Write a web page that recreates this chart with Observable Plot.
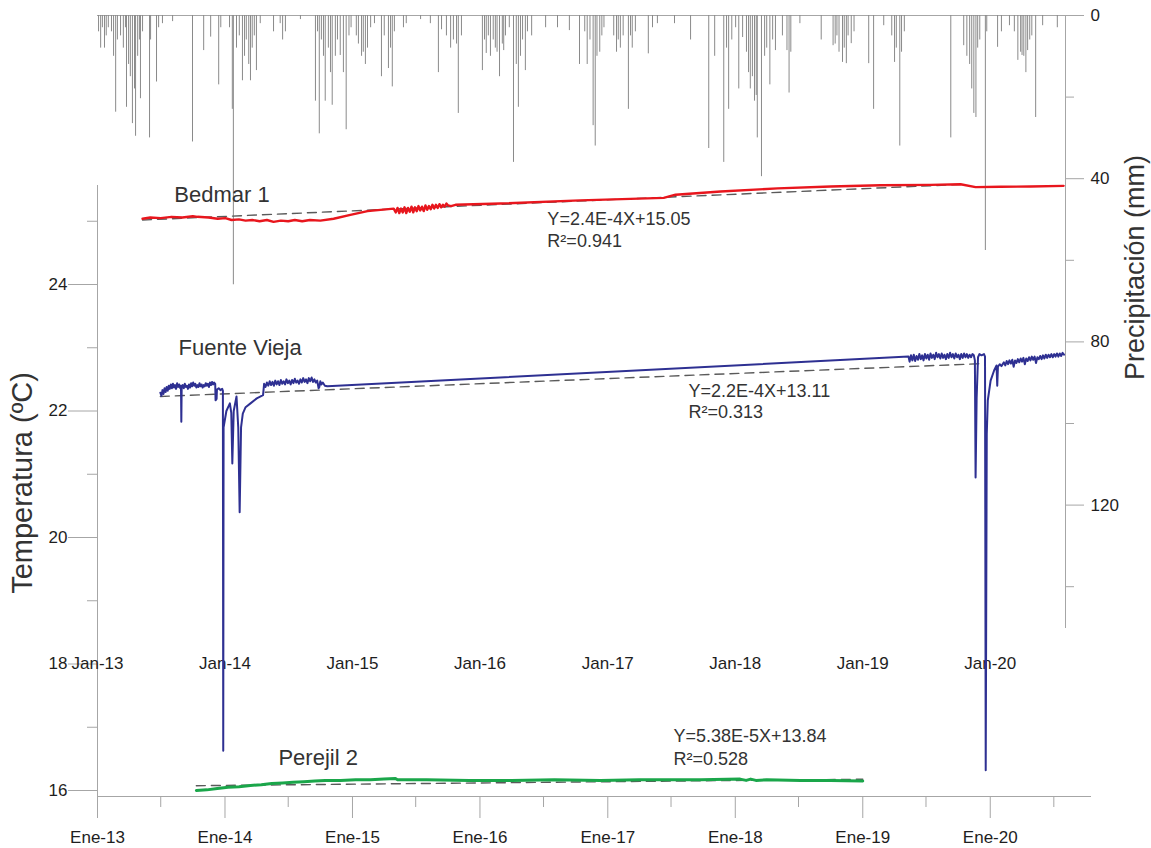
<!DOCTYPE html>
<html><head><meta charset="utf-8">
<script src="https://cdn.jsdelivr.net/npm/d3@7"></script>
<script src="https://cdn.jsdelivr.net/npm/@observablehq/plot@0.6"></script>
<style>
body{margin:0;background:#fff;}
#wrap{position:relative;width:1151px;height:848px;background:#fff;}
#wrap svg{position:absolute;left:0;top:0;}
</style></head><body><div id="wrap"></div>
<script>
// ---------- scales / ticks ----------
const xDomain = ["2013-01-01", "2020-10-14"];
const yearTicks = ["2013-01-01","2014-01-01","2015-01-01","2016-01-01","2017-01-01","2018-01-01","2019-01-01","2020-01-01"];
const halfYearTicks = ["2013-07-01","2014-07-01","2015-07-01","2016-07-01","2017-07-01","2018-07-01","2019-07-01","2020-07-01"];
const tempDomain = [16, 24];
const tempMajorTicks = [16, 18, 20, 22, 24];
const tempMinorTicks = [17, 19, 21, 23, 25];
const precipDomain = [0, 150];
const precipMajorTicks = [0, 40, 80, 120];
const precipMinorTicks = [20, 60, 100, 140];

// ---------- precipitation (mm/day) ----------
const precipitation = [
["2013-01-04",4],["2013-01-10",8],["2013-01-15",3],["2013-01-21",8],["2013-01-26",5],["2013-02-01",3],["2013-02-10",4],["2013-02-16",10],["2013-02-22",23.7],["2013-02-27",6],["2013-03-08",5],["2013-03-16",8],["2013-03-22",3],["2013-03-25",22.5],["2013-03-31",12],["2013-04-05",15],["2013-04-11",26.5],["2013-04-17",18],["2013-04-20",29.6],["2013-04-26",10],["2013-05-01",6],["2013-05-04",20.4],["2013-05-10",4],["2013-05-30",30],["2013-06-02",6],["2013-06-19",16.3],["2013-06-25",3],["2013-07-06",2],["2013-08-04",1.5],["2013-09-30",31],["2013-11-01",8.6],["2013-11-21",5.3],["2013-12-14",17],["2013-12-20",3],
["2014-01-14",3],["2014-01-22",23],["2014-01-25",66],["2014-02-03",8],["2014-02-11",5],["2014-02-20",16],["2014-02-26",10],["2014-03-03",6],["2014-03-10",12],["2014-03-15",16],["2014-03-20",8],["2014-03-26",5],["2014-04-01",13.5],["2014-04-12",2],["2014-05-20",4],["2014-06-08",2],["2014-06-15",6],["2014-06-23",4],["2014-08-05",1],["2014-09-17",21],["2014-09-23",4],["2014-09-28",29],["2014-10-04",6],["2014-10-10",10],["2014-10-15",21],["2014-10-24",8],["2014-10-30",14],["2014-11-04",22],["2014-11-13",10],["2014-11-19",6],["2014-11-27",9.8],["2014-12-06",14],["2014-12-14",28],["2014-12-22",5],["2014-12-28",3],
["2015-01-12",5],["2015-01-18",7],["2015-01-27",10],["2015-02-01",9],["2015-02-07",12],["2015-02-13",8],["2015-02-22",3],["2015-03-05",2],["2015-03-25",15],["2015-04-02",5],["2015-04-14",13],["2015-04-20",8],["2015-04-25",17.5],["2015-05-01",4],["2015-05-27",3],["2015-06-04",2],["2015-07-15",1],["2015-08-12",2],["2015-09-04",14],["2015-09-13",3.5],["2015-09-27",5],["2015-10-09",8],["2015-10-17",6],["2015-10-26",7],["2015-10-31",24],["2015-11-09",5],
["2016-01-08",13.5],["2016-01-14",6],["2016-01-19",9.3],["2016-01-25",5],["2016-01-31",10],["2016-02-08",6],["2016-02-14",8],["2016-02-19",9],["2016-02-26",15],["2016-03-05",7],["2016-03-09",8.6],["2016-03-14",5],["2016-03-25",3],["2016-04-06",36],["2016-04-14",12],["2016-04-20",22.5],["2016-04-26",10],["2016-05-02",6],["2016-05-10",13.5],["2016-05-16",4],["2016-05-28",5],["2016-07-07",3],["2016-08-10",3],["2016-09-13",3.7],["2016-10-12",12],["2016-10-27",4],["2016-11-03",12],["2016-11-11",6],["2016-11-20",27],["2016-11-26",32],["2016-12-01",10],["2016-12-09",9],["2016-12-15",5],["2016-12-21",3],
["2017-01-18",5],["2017-01-26",9],["2017-01-31",6],["2017-02-06",8],["2017-02-14",5],["2017-03-01",23],["2017-03-07",5],["2017-03-12",8],["2017-03-21",4],["2017-04-27",9.4],["2017-05-09",3],["2017-05-23",2],["2017-07-11",2],["2017-08-26",6],["2017-10-17",32.6],["2017-11-03",10],["2017-11-29",36],["2017-12-07",8],["2017-12-13",23],["2017-12-22",6],
["2018-01-02",3],["2018-01-11",18],["2018-01-22",5.4],["2018-02-02",9],["2018-02-08",14],["2018-02-13",18],["2018-02-19",15],["2018-02-25",21],["2018-03-02",19.6],["2018-03-05",30],["2018-03-17",39.5],["2018-03-26",10],["2018-04-01",8],["2018-04-10",17],["2018-04-18",6],["2018-04-26",8.6],["2018-05-16",5],["2018-05-29",8.6],["2018-06-04",19],["2018-06-09",9],["2018-07-05",2],["2018-09-04",6],["2018-10-08",7.4],["2018-10-14",7],["2018-10-19",5],["2018-10-25",9],["2018-11-04",11.5],["2018-11-09",8],["2018-11-15",11.8],["2018-11-20",5],["2018-11-29",6.9],["2018-12-07",4],
["2019-01-18",11.8],["2019-02-01",23],["2019-03-02",2.5],["2019-03-25",5],["2019-04-02",11.5],["2019-04-07",8],["2019-04-17",32],["2019-04-22",9],["2019-04-30",4],["2019-09-10",30],["2019-10-17",7.4],["2019-10-26",10],["2019-11-03",12],["2019-11-09",18],["2019-11-15",24],["2019-11-21",25],["2019-11-26",8],["2019-12-02",6],["2019-12-18",57.6],["2019-12-22",4],
["2020-01-22",7.8],["2020-02-02",4],["2020-02-25",2.5],["2020-03-10",4],["2020-03-20",11],["2020-03-28",9],["2020-04-01",9.8],["2020-04-06",10],["2020-04-12",14],["2020-04-17",8.6],["2020-04-23",6],["2020-04-29",5],["2020-05-10",25],["2020-05-30",2.5],["2020-07-11",3]
];

// ---------- temperature series (ºC) ----------
const bedmar = [
["2013-05-10",25.04],["2013-06-01",25.06],["2013-07-01",25.05],["2013-08-01",25.07],["2013-09-01",25.06],["2013-10-01",25.08],["2013-10-14",25.07],["2013-11-15",25.06],["2013-12-11",25.04],
["2014-01-02",25.05],["2014-01-20",25.02],["2014-02-10",25.03],["2014-03-01",25.01],["2014-03-20",25.02],["2014-04-10",25.00],["2014-05-01",25.02],["2014-05-20",24.99],["2014-06-10",25.01],["2014-07-01",25.00],["2014-07-20",25.02],["2014-08-10",25.00],["2014-09-01",25.02],["2014-10-01",25.01],["2014-11-08",25.04],["2014-12-26",25.10],
["2015-02-13",25.16],["2015-04-29",25.20],["2015-05-05",25.14],["2015-05-10",25.21],["2015-05-15",25.13],["2015-05-20",25.20],["2015-05-25",25.14],["2015-05-30",25.22],["2015-06-04",25.13],["2015-06-09",25.21],["2015-06-14",25.15],["2015-06-19",25.23],["2015-06-24",25.14],["2015-06-29",25.22],["2015-07-04",25.16],["2015-07-09",25.24],["2015-07-14",25.17],["2015-07-19",25.23],["2015-07-24",25.16],["2015-07-29",25.25],["2015-08-03",25.18],["2015-08-08",25.24],["2015-08-13",25.19],["2015-08-18",25.26],["2015-08-23",25.20],["2015-08-28",25.26],["2015-09-02",25.21],["2015-09-07",25.27],["2015-09-12",25.22],["2015-09-17",25.26],["2015-09-22",25.23],["2015-09-27",25.28],["2015-10-02",25.25],["2015-10-10",25.24],["2015-10-23",25.26],
["2016-02-29",25.28],["2016-10-14",25.33],["2017-06-10",25.37],["2017-07-14",25.42],["2017-11-20",25.47],["2018-05-02",25.52],["2018-10-01",25.55],["2019-02-21",25.57],["2019-07-14",25.575],["2019-10-08",25.585],["2019-11-20",25.54],["2020-01-31",25.545],["2020-04-26",25.55],["2020-07-29",25.56]
];

const fuenteVieja = [
["2013-06-30",22.29],["2013-07-03",22.24],["2013-07-06",22.33],["2013-07-09",22.27],["2013-07-12",22.36],["2013-07-15",22.30],["2013-07-18",22.38],["2013-07-21",22.32],["2013-07-24",22.40],["2013-07-27",22.35],["2013-07-30",22.42],["2013-08-02",22.36],["2013-08-05",22.43],["2013-08-08",22.37],["2013-08-11",22.41],["2013-08-14",22.35],["2013-08-17",22.44],["2013-08-20",22.38],["2013-08-23",22.42],["2013-08-26",22.36],["2013-08-28",22.40],["2013-08-29",21.83],["2013-08-30",22.38],
["2013-09-02",22.41],["2013-09-05",22.36],["2013-09-08",22.43],["2013-09-11",22.38],["2013-09-14",22.40],["2013-09-17",22.35],["2013-09-20",22.42],["2013-09-23",22.37],["2013-09-26",22.44],["2013-09-29",22.39],["2013-10-02",22.45],["2013-10-05",22.40],["2013-10-08",22.43],["2013-10-11",22.37],["2013-10-14",22.41],["2013-10-17",22.38],["2013-10-20",22.44],["2013-10-23",22.39],["2013-10-26",22.42],["2013-10-29",22.37],["2013-11-01",22.41],["2013-11-04",22.39],["2013-11-07",22.44],["2013-11-10",22.40],["2013-11-13",22.43],["2013-11-16",22.38],["2013-11-19",22.45],["2013-11-22",22.41],["2013-11-25",22.46],["2013-11-28",22.42],["2013-12-01",22.45],["2013-12-04",22.43],["2013-12-05",22.17],["2013-12-08",22.19],["2013-12-09",22.34],["2013-12-14",22.36],["2013-12-19",22.33],["2013-12-24",22.35],["2013-12-26",22.32],["2013-12-27",16.63],["2013-12-28",21.74],
["2014-01-05",22.00],["2014-01-15",22.12],["2014-01-19",21.97],["2014-01-22",21.17],["2014-01-26",22.00],["2014-02-03",22.23],["2014-02-08",21.74],["2014-02-12",20.40],["2014-02-16",21.74],["2014-02-21",21.96],["2014-03-01",22.06],["2014-03-15",22.12],["2014-04-02",22.20],["2014-04-20",22.25],
["2014-04-23",22.43],["2014-04-27",22.38],["2014-05-01",22.45],["2014-05-05",22.40],["2014-05-09",22.47],["2014-05-13",22.41],["2014-05-17",22.46],["2014-05-21",22.40],["2014-05-25",22.48],["2014-05-29",22.42],["2014-06-02",22.47],["2014-06-06",22.41],["2014-06-10",22.49],["2014-06-14",22.43],["2014-06-18",22.47],["2014-06-22",22.42],["2014-06-26",22.50],["2014-06-30",22.44],["2014-07-04",22.48],["2014-07-08",22.42],["2014-07-12",22.49],["2014-07-16",22.44],["2014-07-20",22.51],["2014-07-24",22.45],["2014-07-28",22.48],["2014-08-01",22.43],["2014-08-05",22.50],["2014-08-09",22.45],["2014-08-13",22.52],["2014-08-17",22.46],["2014-08-21",22.50],["2014-08-25",22.44],["2014-08-29",22.52],["2014-09-02",22.47],["2014-09-06",22.53],["2014-09-10",22.46],["2014-09-14",22.50],["2014-09-18",22.45],["2014-09-22",22.48],["2014-09-26",22.36],["2014-09-28",22.38],["2014-10-01",22.47],["2014-10-04",22.42],["2014-10-08",22.45],["2014-10-14",22.40],["2014-10-21",22.39],
["2019-05-12",22.86],["2019-05-15",22.78],["2019-05-19",22.88],["2019-05-23",22.80],["2019-05-27",22.89],["2019-05-31",22.79],["2019-06-04",22.87],["2019-06-08",22.81],["2019-06-12",22.90],["2019-06-16",22.82],["2019-06-20",22.88],["2019-06-24",22.80],["2019-06-28",22.90],["2019-07-02",22.83],["2019-07-06",22.89],["2019-07-10",22.81],["2019-07-14",22.91],["2019-07-18",22.84],["2019-07-22",22.89],["2019-07-26",22.82],["2019-07-30",22.92],["2019-08-03",22.85],["2019-08-07",22.90],["2019-08-11",22.83],["2019-08-15",22.91],["2019-08-19",22.84],["2019-08-23",22.89],["2019-08-27",22.82],["2019-08-31",22.90],["2019-09-04",22.84],["2019-09-08",22.92],["2019-09-12",22.85],["2019-09-16",22.90],["2019-09-20",22.83],["2019-09-24",22.91],["2019-09-28",22.85],["2019-10-02",22.89],["2019-10-06",22.82],["2019-10-10",22.90],["2019-10-14",22.84],["2019-10-18",22.91],["2019-10-22",22.85],["2019-10-26",22.90],["2019-10-30",22.84],["2019-11-03",22.89],["2019-11-07",22.85],["2019-11-11",22.90],["2019-11-15",22.88],["2019-11-18",22.80],["2019-11-20",20.95],["2019-11-23",22.20],["2019-11-27",22.85],["2019-12-01",22.90],["2019-12-07",22.88],["2019-12-14",22.90],["2019-12-17",22.86],["2019-12-19",16.32],["2019-12-22",21.64],["2019-12-25",22.17],
["2020-01-02",22.48],["2020-01-12",22.64],["2020-01-19",22.72],["2020-01-21",22.40],["2020-01-23",22.70],["2020-01-28",22.74],["2020-02-02",22.71],["2020-02-09",22.77],["2020-02-13",22.72],["2020-02-17",22.79],["2020-02-21",22.74],["2020-02-25",22.80],["2020-02-29",22.75],["2020-03-04",22.81],["2020-03-08",22.70],["2020-03-12",22.80],["2020-03-16",22.76],["2020-03-20",22.82],["2020-03-24",22.77],["2020-03-28",22.83],["2020-04-01",22.78],["2020-04-05",22.84],["2020-04-09",22.74],["2020-04-13",22.83],["2020-04-17",22.79],["2020-04-21",22.85],["2020-04-25",22.80],["2020-04-29",22.86],["2020-05-03",22.81],["2020-05-07",22.86],["2020-05-11",22.76],["2020-05-15",22.85],["2020-05-19",22.82],["2020-05-23",22.87],["2020-05-27",22.82],["2020-05-31",22.88],["2020-06-04",22.83],["2020-06-08",22.89],["2020-06-12",22.84],["2020-06-16",22.89],["2020-06-20",22.85],["2020-06-24",22.90],["2020-06-28",22.85],["2020-07-02",22.90],["2020-07-06",22.86],["2020-07-10",22.91],["2020-07-14",22.86],["2020-07-18",22.91],["2020-07-22",22.87],["2020-07-26",22.92],["2020-07-30",22.89]
];

const perejil = [
["2013-10-11",16.00],["2013-11-10",16.01],["2013-12-10",16.03],["2014-01-10",16.05],["2014-02-10",16.06],["2014-03-15",16.08],["2014-04-15",16.09],["2014-05-15",16.11],["2014-06-15",16.12],["2014-07-15",16.13],["2014-08-15",16.14],["2014-09-15",16.15],["2014-10-15",16.16],["2014-11-28",16.16],["2015-01-10",16.17],["2015-02-22",16.17],["2015-04-01",16.18],["2015-05-04",16.19],["2015-05-10",16.17],["2015-08-01",16.17],["2015-12-01",16.16],["2016-04-01",16.16],["2016-08-01",16.17],["2016-12-11",16.16],["2017-04-01",16.17],["2017-09-24",16.17],["2018-01-15",16.18],["2018-02-01",16.16],["2018-02-14",16.18],["2018-03-01",16.16],["2018-04-01",16.17],["2018-07-07",16.16],["2018-10-01",16.16],["2019-01-01",16.15]
];

// ---------- linear trends (start/end) ----------
const trends = [
  {station:"Bedmar 1", d1:"2013-05-10", v1:25.02, d2:"2019-10-20", v2:25.585},
  {station:"Fuente Vieja", d1:"2013-06-30", v1:22.23, d2:"2019-12-14", v2:22.75},
  {station:"Perejil 2", d1:"2013-10-11", v1:16.076, d2:"2019-01-01", v2:16.178}
];

// ---------- labels ----------
const stationLabels = [
  {text:"Bedmar 1", date:"2013-08-09", value:25.31},
  {text:"Fuente Vieja", date:"2013-08-21", value:22.893},
  {text:"Perejil 2", date:"2014-06-03", value:16.41}
];
const equationLabels = [
  {text:"Y=2.4E-4X+15.05", date:"2016-07-12", value:24.933},
  {text:"R\u00B2=0.941", date:"2016-07-12", value:24.585},
  {text:"Y=2.2E-4X+13.11", date:"2017-08-20", value:22.229},
  {text:"R\u00B2=0.313", date:"2017-08-20", value:21.897},
  {text:"Y=5.38E-5X+13.84", date:"2017-07-08", value:16.759},
  {text:"R\u00B2=0.528", date:"2017-07-08", value:16.411}
];

// ---------- build ----------
const P = d => new Date(d);
const toRows = arr => arr.map(([d, v]) => ({date: P(d), value: v}));
const precipRows = toRows(precipitation);
const bedmarRows = toRows(bedmar);
const fvRows = toRows(fuenteVieja);
const perejilRows = toRows(perejil);
const trendRows = trends.flatMap(t => [{station:t.station, date:P(t.d1), value:t.v1}, {station:t.station, date:P(t.d2), value:t.v2}]);
const yr = d3.utcFormat("%y");

const W = 1151, H = 848;
const font = "Liberation Sans, Arial, Helvetica, sans-serif";
const xScale = {type:"utc", domain: xDomain.map(P), range:[97, 1090], axis:null};
const axisGray = "#a6a6a6";
const textDark = "#1e1e1e";

const precipPlot = Plot.plot({
  width: W, height: H,
  marginLeft: 97, marginRight: 86, marginTop: 15, marginBottom: 221,
  style: {fontFamily: font, fontSize: "17px", background: "transparent", color: textDark},
  x: xScale,
  y: {domain: precipDomain, range: [15, 627], axis: null},
  marks: [
    Plot.ruleY([0], {stroke: axisGray, strokeWidth: 1}),
    Plot.ruleX(precipRows, {x: "date", y1: 0, y2: "value", stroke: "#8a8a8a", strokeWidth: 1}),
    Plot.frame({anchor: "right", stroke: axisGray}),
    Plot.axisY(precipMajorTicks, {anchor: "right", tickSize: 18, tickPadding: 7, stroke: axisGray, fill: textDark, fontSize: 17, tickFormat: d => String(d), label: null}),
    Plot.axisY(precipMinorTicks, {anchor: "right", tickSize: 8, tickFormat: () => "", stroke: axisGray, label: null}),
    Plot.text(["Precipitación (mm)"], {frameAnchor: "right", textAnchor: "middle", lineAnchor: "middle", rotate: -90, dx: 70, dy: -54, fontSize: 27, fill: "#333"})
  ]
});

const tempPlot = Plot.plot({
  width: W, height: H,
  marginLeft: 97, marginRight: 61, marginTop: 185, marginBottom: 52,
  style: {fontFamily: font, fontSize: "17px", background: "transparent", color: textDark},
  x: xScale,
  y: {domain: tempDomain, range: [790, 284], axis: null},
  marks: [
    Plot.frame({anchor: "left", stroke: axisGray}),
    Plot.frame({anchor: "bottom", stroke: axisGray}),
    Plot.axisY(tempMajorTicks, {anchor: "left", tickSize: 29, tickPadding: 1, stroke: axisGray, fill: textDark, fontSize: 17, tickFormat: d => String(d), label: null}),
    Plot.axisY(tempMinorTicks, {anchor: "left", tickSize: 10, tickFormat: () => "", stroke: axisGray, label: null}),
    Plot.axisX(yearTicks.map(P), {anchor: "bottom", tickSize: 22, tickPadding: 12, stroke: axisGray, fill: textDark, fontSize: 17, tickFormat: d => "Ene-" + yr(d), label: null}),
    Plot.axisX(halfYearTicks.map(P), {anchor: "bottom", tickSize: 11, tickFormat: () => "", stroke: axisGray, label: null}),
    Plot.text(yearTicks.map(P), {x: d => d, frameAnchor: "bottom", dy: -128, text: d => "Jan-" + yr(d), fontSize: 17, fill: textDark}),
    Plot.text(["Temperatura (ºC)"], {frameAnchor: "left", textAnchor: "middle", lineAnchor: "middle", rotate: -90, dx: -75, dy: -8, fontSize: 29, fill: "#333"}),
    Plot.line(trendRows, {x: "date", y: "value", z: "station", stroke: "#5a5a5a", strokeWidth: 1.4, strokeDasharray: "9,6"}),
    Plot.line(perejilRows, {x: "date", y: "value", stroke: "#1aa64a", strokeWidth: 3}),
    Plot.line(fvRows, {x: "date", y: "value", stroke: "#2e3092", strokeWidth: 2}),
    Plot.line(bedmarRows, {x: "date", y: "value", stroke: "#e8161d", strokeWidth: 2.4}),
    Plot.text(stationLabels, {x: d => P(d.date), y: "value", text: "text", textAnchor: "start", lineAnchor: "bottom", fontSize: 22, fill: "#333"}),
    Plot.text(equationLabels, {x: d => P(d.date), y: "value", text: "text", textAnchor: "start", lineAnchor: "bottom", fontSize: 18, fill: "#333"})
  ]
});

const wrap = document.getElementById("wrap");
wrap.appendChild(precipPlot);
wrap.appendChild(tempPlot);
</script></body></html>
